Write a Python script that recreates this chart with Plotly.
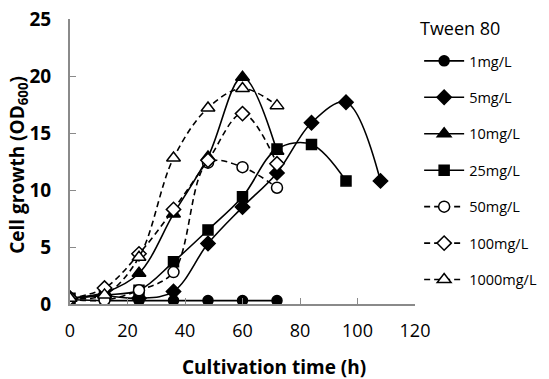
import plotly.graph_objects as go

time_h = [0, 12, 24, 36, 48, 60, 72, 84, 96, 108]

names = ["1mg/L", "5mg/L", "10mg/L", "25mg/L", "50mg/L", "100mg/L", "1000mg/L"]

od_1 = [0.4, 0.3, 0.3, 0.3, 0.3, 0.3, 0.3]
od_5 = [0.5, 0.7, 0.5, 1.1, 5.3, 8.5, 11.5, 15.9, 17.7, 10.8]
od_10 = [0.5, 1.0, 2.7, 7.9, 12.9, 19.9, 13.4]
od_25 = [0.5, 0.8, 1.2, 3.7, 6.5, 9.4, 13.6, 14.0, 10.8]
od_50 = [0.4, 0.35, 1.2, 2.8, 12.4, 12.0, 10.2]
od_100 = [0.5, 1.4, 4.4, 8.3, 12.6, 16.7, 12.3]
od_1000 = [0.5, 0.8, 4.1, 12.8, 17.2, 18.9, 17.4]

series = [od_1, od_5, od_10, od_25, od_50, od_100, od_1000]
symbols = ["circle", "diamond", "triangle-up", "square",
           "circle-open", "diamond-open", "triangle-up-open"]
dashes = ["solid", "solid", "solid", "solid", "6px,4px", "6px,4px", "6px,4px"]
sizes = [10, 11, 12, 10, 11, 11, 12]

FONT = "Open Sans"

fig = go.Figure()
for i, (nm, ys) in enumerate(zip(names, series)):
    open_m = symbols[i].endswith("open")
    fig.add_trace(go.Scatter(
        x=time_h[:len(ys)], y=ys, name=nm, mode="lines+markers",
        legendgroup=nm,
        line=dict(color="black", width=1.6, dash=dashes[i], shape="spline"),
        marker=dict(symbol=symbols[i].replace("-open", ""), size=sizes[i],
                    color="white" if open_m else "black",
                    line=dict(color="black", width=1.5)),
    ))

axis_col = "#8a8a8a"
fig.update_layout(
    width=549, height=379,
    margin=dict(l=70, r=134, t=19, b=75, autoexpand=False),
    paper_bgcolor="white", plot_bgcolor="white",
    font=dict(family=FONT, color="black"),
    showlegend=True,
    legend=dict(
        x=1.012, xanchor="left", y=0.909, yanchor="top",
        font=dict(size=14.5, family=FONT),
        traceorder="grouped", tracegroupgap=14.6,
        itemwidth=40, bgcolor="rgba(0,0,0,0)", maxheight=320,
    ),
    xaxis=dict(
        range=[0, 120], dtick=20, tick0=0,
        showline=True, linecolor=axis_col, linewidth=2,
        ticks="inside", ticklen=6, tickcolor=axis_col, tickwidth=1,
        showgrid=False, zeroline=False,
        tickfont=dict(size=18, family=FONT),
        ticklabelstandoff=9, ticklabeloverflow="allow",
        automargin=False,
    ),
    yaxis=dict(
        range=[0, 25], dtick=5, tick0=0,
        showline=True, linecolor=axis_col, linewidth=2,
        ticks="inside", ticklen=6, tickcolor=axis_col, tickwidth=1,
        showgrid=False, zeroline=False,
        tickfont=dict(size=19, family=FONT, weight="bold"),
        ticklabelstandoff=13, ticklabeloverflow="allow",
        automargin=False,
    ),
    annotations=[
        dict(text="Tween 80", xref="paper", yref="paper",
             x=1.01, y=0.968, xanchor="left", yanchor="middle", showarrow=False,
             font=dict(size=18, family=FONT)),
        dict(text="Cultivation time (h)", xref="paper", yref="paper",
             x=0.591, y=-0.221, xanchor="center", yanchor="middle",
             showarrow=False,
             font=dict(size=19, family=FONT, weight="bold")),
        dict(text="Cell growth (OD<sub>600</sub>)", xref="paper", yref="paper",
             x=-0.151, y=0.488, xanchor="center", yanchor="middle",
             textangle=-90, showarrow=False,
             font=dict(size=19, family=FONT, weight="bold")),
    ],
)

fig.write_html("out.html",
               config={"displayModeBar": False},
               post_script="document.body.style.margin='0';")
